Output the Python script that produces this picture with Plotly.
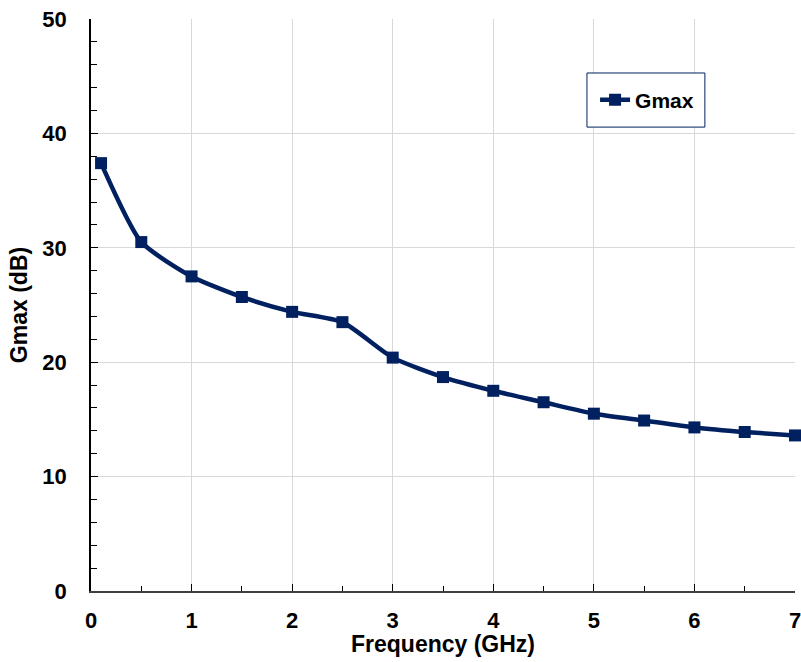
import plotly.graph_objects as go

freq_ghz = [0.1, 0.5, 1.0, 1.5, 2.0, 2.5, 3.0, 3.5, 4.0, 4.5, 5.0, 5.5, 6.0, 6.5, 7.0]
gmax_db = [37.4, 30.5, 27.5, 25.7, 24.4, 23.5, 20.4, 18.7, 17.5, 16.5, 15.5, 14.9, 14.3, 13.9, 13.6]

navy = "#002060"
font_family = "Arial, 'Liberation Sans', sans-serif"

fig = go.Figure()
fig.add_trace(go.Scatter(
    x=freq_ghz, y=gmax_db, name="Gmax", mode="lines+markers",
    line=dict(color=navy, width=4.5, shape="spline", smoothing=0.6),
    marker=dict(symbol="square", size=12, color=navy),
    cliponaxis=False,
))

# legend frame
fig.add_shape(type="rect", xref="paper", yref="paper",
              x0=0.7045, x1=0.872, y0=0.811, y1=0.9056,
              line=dict(color=navy, width=1), fillcolor="white", layer="above")

# x-axis title
fig.add_annotation(text="<b>Frequency (GHz)</b>", xref="paper", yref="paper",
                   x=0.5, y=0, xanchor="center", yanchor="top", yshift=-38,
                   showarrow=False, font=dict(size=23, family=font_family, color="black"))

fig.update_layout(
    width=801, height=662,
    margin=dict(l=91, r=6, t=19, b=71, autoexpand=False),
    paper_bgcolor="white", plot_bgcolor="white",
    font=dict(family=font_family, size=22, color="black"),
    showlegend=True,
    legend=dict(
        x=0.716, y=0.858, xanchor="left", yanchor="middle",
        borderwidth=0, bgcolor="rgba(0,0,0,0)",
        font=dict(size=21, family=font_family, color="black", weight="bold"),
        itemwidth=30,
    ),
    xaxis=dict(
        range=[0, 7], dtick=1, tick0=0, automargin=False,
        showgrid=True, gridcolor="#d9d9d9", gridwidth=1,
        showline=True, linecolor="#404040", linewidth=2,
        ticks="inside", ticklen=7, tickcolor="black", tickwidth=1,
        minor=dict(dtick=0.5, ticks="inside", ticklen=5, tickcolor="black", showgrid=False),
        tickfont=dict(size=22, family=font_family, weight="bold"),
        ticklabelstandoff=9, ticklabeloverflow="allow",
        zeroline=False,
    ),
    yaxis=dict(
        range=[0, 50], dtick=10, tick0=0, automargin=False,
        showgrid=True, gridcolor="#d9d9d9", gridwidth=1,
        showline=True, linecolor="black", linewidth=1.5,
        ticks="inside", ticklen=7, tickcolor="black", tickwidth=1,
        minor=dict(dtick=2, ticks="inside", ticklen=6, tickcolor="black", showgrid=False),
        tickfont=dict(size=22, family=font_family, weight="bold"),
        ticklabelstandoff=18, ticklabeloverflow="allow",
        title=dict(text="Gmax (dB)", font=dict(size=23, family=font_family, weight="bold"), standoff=8),
        zeroline=False,
    ),
)

fig.write_html("out.html", config={"displayModeBar": False},
               post_script="document.body.style.margin='0';document.body.style.overflow='hidden';")
